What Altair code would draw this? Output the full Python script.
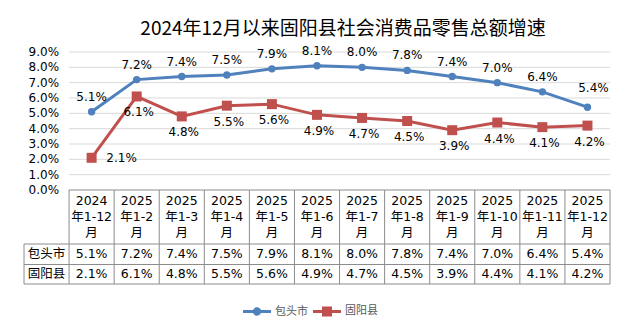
import altair as alt
import pandas as pd

title_text = "2024年12月以来固阳县社会消费品零售总额增速"
periods = ["2024年1-12月", "2025年1-2月", "2025年1-3月", "2025年1-4月",
           "2025年1-5月", "2025年1-6月", "2025年1-7月", "2025年1-8月",
           "2025年1-9月", "2025年1-10月", "2025年1-11月", "2025年1-12月"]
series_names = ["包头市", "固阳县"]
baotou = [5.1, 7.2, 7.4, 7.5, 7.9, 8.1, 8.0, 7.8, 7.4, 7.0, 6.4, 5.4]
guyang = [2.1, 6.1, 4.8, 5.5, 5.6, 4.9, 4.7, 4.5, 3.9, 4.4, 4.1, 4.2]
y_ticks = [0, 1, 2, 3, 4, 5, 6, 7, 8, 9]
colors = ["#4F81BD", "#C0504D"]

n = len(periods)
FONT_NUM = "DejaVu Sans, Noto Sans CJK SC"
FONT_CJK = "Noto Sans CJK SC"

# ---------- data tables ----------
rows = []
for s, vals in zip(series_names, [baotou, guyang]):
    for k, (p, v) in enumerate(zip(periods, vals)):
        rows.append({"i": k + 1, "period": p, "series": s, "value": v,
                     "label": f"{v:.1f}%"})
long = pd.DataFrame(rows)

grid = pd.DataFrame({"y": y_ticks[1:], "x0": 0.5, "x1": n + 0.5})
ylab = pd.DataFrame({"y": y_ticks, "x": 0.5, "text": [f"{t:.1f}%" for t in y_ticks]})

segs = []
segs.append({"x": 0.5, "x2": n + 0.5, "y": 0, "y2": 0})
for r in [1, 2, 3]:
    segs.append({"x": -0.5, "x2": n + 0.5, "y": r, "y2": r})
segs.append({"x": -0.5, "x2": -0.5, "y": 1, "y2": 3})
for c in range(n + 1):
    segs.append({"x": c + 0.5, "x2": c + 0.5, "y": 0, "y2": 3})
segs = pd.DataFrame(segs)

header = pd.DataFrame({"i": list(range(1, n + 1)),
                       "text": [p[:4] + "\n" + p[4:-1] + "\n" + p[-1] for p in periods]})
cells = []
for r, (s, vals) in enumerate(zip(series_names, [baotou, guyang])):
    for k, v in enumerate(vals):
        cells.append({"i": k + 1, "row": r + 1.5, "text": f"{v:.1f}%", "cjk": False})
    cells.append({"i": 0, "row": r + 1.5, "text": s, "cjk": True})
cells = pd.DataFrame(cells)

# ---------- scales ----------
X = alt.Scale(domain=[-0.5, n + 0.5], nice=False, zero=False)
YP = alt.Scale(domain=[0, 9], range=[153, 15], nice=False, zero=False)
YR = alt.Scale(domain=[0, 1, 2, 3], range=[153, 207, 227.5, 247], nice=False, zero=False)

# ---------- upper (line chart) ----------
gridlines = alt.Chart(grid).mark_rule(color="#D9D9D9", strokeWidth=1).encode(
    x=alt.X("x0:Q", scale=X, axis=None), x2="x1:Q",
    y=alt.Y("y:Q", scale=YP, axis=None))

ylabels = alt.Chart(ylab).mark_text(align="right", baseline="middle", dx=-10,
                                    font=FONT_NUM, fontSize=12, color="#000000").encode(
    x=alt.X("x:Q", scale=X, axis=None), y=alt.Y("y:Q", scale=YP, axis=None), text="text:N")

layers = [gridlines, ylabels]
shapes_plot = ["circle", "square"]
sizes_plot = [55, 100]
for s, c, shp, sz in zip(series_names, colors, shapes_plot, sizes_plot):
    base = alt.Chart(long).transform_filter(alt.datum.series == s)
    layers.append(base.mark_line(color=c, strokeWidth=3).encode(
        x=alt.X("i:Q", scale=X, axis=None), y=alt.Y("value:Q", scale=YP, axis=None)))
    layers.append(base.mark_point(shape=shp, size=sz, filled=True, color=c, opacity=1).encode(
        x=alt.X("i:Q", scale=X, axis=None), y=alt.Y("value:Q", scale=YP, axis=None)))

lab_style = dict(font=FONT_NUM, fontSize=12, color="#000000", baseline="middle")
blue = alt.Chart(long).transform_filter(alt.datum.series == series_names[0])
red = alt.Chart(long).transform_filter(alt.datum.series == series_names[1])
enc = dict(x=alt.X("i:Q", scale=X, axis=None), y=alt.Y("value:Q", scale=YP, axis=None), text="label:N")
layers.append(blue.transform_filter(alt.datum.i < n).mark_text(dy=-15, **lab_style).encode(**enc))
layers.append(blue.transform_filter(alt.datum.i == n).mark_text(dy=-19, dx=6, **lab_style).encode(**enc))
layers.append(red.transform_filter(alt.datum.i > 1).mark_text(dy=16, dx=2, **lab_style).encode(**enc))
layers.append(red.transform_filter(alt.datum.i == 1).mark_text(dx=30, **lab_style).encode(**enc))

# legend carrier: no marks drawn, legend built from the scale domain
legend_paths = [
    "M-1,-0.11L1,-0.11L1,0.11L-1,0.11Z M-0.3,0A0.3,0.3 0 1,1 0.3,0A0.3,0.3 0 1,1 -0.3,0Z",
    "M-1,-0.11L1,-0.11L1,0.11L-1,0.11Z M-0.36,-0.36L0.36,-0.36L0.36,0.36L-0.36,0.36Z",
]
legend_layer = alt.Chart(long).transform_filter(alt.datum.i < 0).mark_point(
    filled=True, opacity=1).encode(
    x=alt.X("i:Q", scale=X, axis=None),
    y=alt.Y("value:Q", scale=YP, axis=None),
    color=alt.Color("series:N", scale=alt.Scale(domain=series_names, range=colors),
                    legend=alt.Legend(orient="none", legendX=219, legendY=260,
                                      direction="horizontal", title=None,
                                      symbolSize=784, symbolOpacity=1,
                                      symbolStrokeWidth=0,
                                      labelFont=FONT_CJK, labelFontSize=11,
                                      labelColor="#595959", labelOffset=4,
                                      columnPadding=5, padding=0)),
    shape=alt.Shape("series:N", scale=alt.Scale(domain=series_names, range=legend_paths)),
)
layers.append(legend_layer)
upper = alt.layer(*layers)

# ---------- lower (data table) ----------
tlines = alt.Chart(segs).mark_rule(color="#8C8C8C", strokeWidth=1).encode(
    x=alt.X("x:Q", scale=X, axis=None), x2="x2:Q",
    y=alt.Y("y:Q", scale=YR, axis=None), y2="y2:Q")
thead = alt.Chart(header).mark_text(font=FONT_NUM, fontSize=12.5, color="#000000",
                                    baseline="middle", lineBreak="\n", lineHeight=16,
                                    dy=-16).encode(
    x=alt.X("i:Q", scale=X, axis=None), y=alt.Y("yv:Q", scale=YR, axis=None), text="text:N"
).transform_calculate(yv="0.5")
tcells = alt.Chart(cells).transform_filter(~alt.datum.cjk).mark_text(
    font=FONT_NUM, fontSize=12.5, color="#000000", baseline="middle").encode(
    x=alt.X("i:Q", scale=X, axis=None), y=alt.Y("row:Q", scale=YR, axis=None), text="text:N")
trows = alt.Chart(cells).transform_filter(alt.datum.cjk).mark_text(
    font=FONT_CJK, fontSize=12.5, color="#000000", baseline="middle").encode(
    x=alt.X("i:Q", scale=X, axis=None), y=alt.Y("row:Q", scale=YR, axis=None), text="text:N")
lower = alt.layer(tlines, thead, tcells, trows)

chart = alt.layer(upper, lower).resolve_scale(y="independent").properties(
    width=586, height=248,
    padding={"left": 15, "top": 12, "right": 0, "bottom": 0},
    title=alt.Title(title_text, fontSize=19, font=FONT_CJK, fontWeight="normal",
                    color="#000000", anchor="middle", dx=26, offset=-2),
).configure_view(stroke=None)

chart.save("out.html", embed_options={"renderer": "svg", "actions": False})
